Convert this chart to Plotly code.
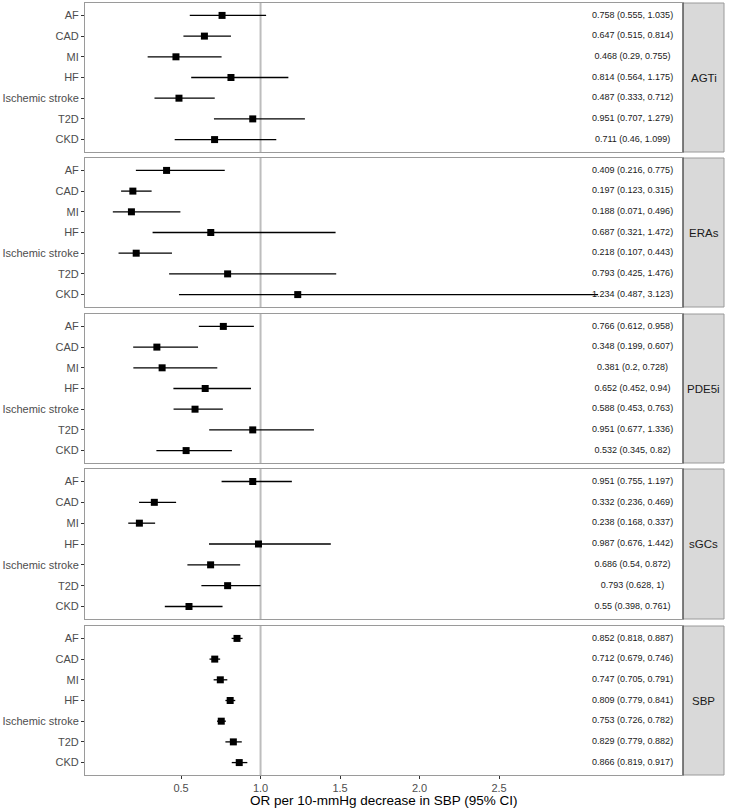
import plotly.graph_objects as go

# ---------------- data ----------------
outcomes = ["AF", "CAD", "MI", "HF", "Ischemic stroke", "T2D", "CKD"]
panels = ["AGTi", "ERAs", "PDE5i", "sGCs", "SBP"]

agti_or = [0.758, 0.647, 0.468, 0.814, 0.487, 0.951, 0.711]
agti_lo = [0.555, 0.515, 0.29, 0.564, 0.333, 0.707, 0.46]
agti_hi = [1.035, 0.814, 0.755, 1.175, 0.712, 1.279, 1.099]

eras_or = [0.409, 0.197, 0.188, 0.687, 0.218, 0.793, 1.234]
eras_lo = [0.216, 0.123, 0.071, 0.321, 0.107, 0.425, 0.487]
eras_hi = [0.775, 0.315, 0.496, 1.472, 0.443, 1.476, 3.123]

pde5i_or = [0.766, 0.348, 0.381, 0.652, 0.588, 0.951, 0.532]
pde5i_lo = [0.612, 0.199, 0.2, 0.452, 0.453, 0.677, 0.345]
pde5i_hi = [0.958, 0.607, 0.728, 0.94, 0.763, 1.336, 0.82]

sgcs_or = [0.951, 0.332, 0.238, 0.987, 0.686, 0.793, 0.55]
sgcs_lo = [0.755, 0.236, 0.168, 0.676, 0.54, 0.628, 0.398]
sgcs_hi = [1.197, 0.469, 0.337, 1.442, 0.872, 1, 0.761]

sbp_or = [0.852, 0.712, 0.747, 0.809, 0.753, 0.829, 0.866]
sbp_lo = [0.818, 0.679, 0.705, 0.779, 0.726, 0.779, 0.819]
sbp_hi = [0.887, 0.746, 0.791, 0.841, 0.782, 0.882, 0.917]

x_tickvals = [0.5, 1.0, 1.5, 2.0, 2.5]
x_ticktext = ["0.5", "1.0", "1.5", "2.0", "2.5"]

series = [
    (agti_or, agti_lo, agti_hi),
    (eras_or, eras_lo, eras_hi),
    (pde5i_or, pde5i_lo, pde5i_hi),
    (sgcs_or, sgcs_lo, sgcs_hi),
    (sbp_or, sbp_lo, sbp_hi),
]

# ---------------- layout constants ----------------
W, H = 731, 810
ML, MR, MT, MB = 85, 48, 3, 35
PLOT_W = W - ML - MR
PLOT_H = H - MT - MB
STRIP_W = 41
TEXT_X = 3.34
X_RANGE = [-0.104, 3.657]
panel_tops = [3, 158, 314, 469, 626]
panel_bots = [152, 307, 463, 619, 775]

FONT = "Liberation Sans"
BORDER = "#9a9a9a"
DARK = "#333333"


def py(px):
    return (H - MB - px) / PLOT_H


fig = go.Figure()
layout = dict(
    width=W, height=H,
    margin=dict(l=ML, r=MR, t=MT, b=MB),
    paper_bgcolor="white", plot_bgcolor="white",
    showlegend=False,
    font=dict(family=FONT, size=11, color="#4d4d4d"),
)
shapes = []
annotations = []

for i, (name, (orv, lo, hi)) in enumerate(zip(panels, series)):
    k = i + 1
    xa = "x" if k == 1 else f"x{k}"
    ya = "y" if k == 1 else f"y{k}"
    labels = [f"{o:g} ({a:g}, {b:g})" for o, a, b in zip(orv, lo, hi)]

    fig.add_trace(go.Scatter(
        x=orv, y=outcomes, mode="markers",
        marker=dict(symbol="square", size=7, color="black"),
        error_x=dict(type="data", symmetric=False,
                     array=[b - o for o, b in zip(orv, hi)],
                     arrayminus=[o - a for o, a in zip(orv, lo)],
                     thickness=1.3, width=0, color="black"),
        xaxis=xa, yaxis=ya, hoverinfo="skip",
    ))
    fig.add_trace(go.Scatter(
        x=[TEXT_X] * len(labels), y=outcomes, mode="text", text=labels,
        textposition="middle center",
        textfont=dict(family=FONT, size=9, color="#1a1a1a"),
        xaxis=xa, yaxis=ya, hoverinfo="skip",
    ))

    bottom = (k == len(panels))
    xkey = "xaxis" if k == 1 else f"xaxis{k}"
    ykey = "yaxis" if k == 1 else f"yaxis{k}"
    layout[xkey] = dict(
        domain=[0, 1], anchor=ya, range=X_RANGE,
        showgrid=False, zeroline=False,
        showline=True, mirror=True, linecolor=BORDER, linewidth=1,
        tickvals=x_tickvals, ticktext=x_ticktext,
        ticks="outside" if bottom else "", ticklen=3, tickcolor=DARK,
        showticklabels=bottom,
        tickfont=dict(family=FONT, size=11, color="#4d4d4d"),
    )
    if k > 1:
        layout[xkey]["matches"] = "x"
    layout[ykey] = dict(
        domain=[py(panel_bots[i]), py(panel_tops[i])], anchor=xa,
        type="category", categoryarray=outcomes, range=[6.6, -0.6],
        showgrid=False, zeroline=False,
        showline=True, mirror=True, linecolor=BORDER, linewidth=1,
        ticks="outside", ticklen=3, tickcolor=DARK,
        tickfont=dict(family=FONT, size=11, color="#4d4d4d"),
    )

    # reference line at OR = 1
    shapes.append(dict(type="line", xref=xa, yref=f"{ya} domain",
                       x0=1, x1=1, y0=0, y1=1, layer="below",
                       line=dict(color="#bdbdbd", width=2)))
    # strip
    shapes.append(dict(type="rect", xref="paper", yref=f"{ya} domain",
                       x0=1, x1=1 + STRIP_W / PLOT_W, y0=0, y1=1,
                       fillcolor="#d9d9d9", line=dict(color=BORDER, width=1),
                       layer="above"))
    shapes.append(dict(type="line", xref="paper", yref=f"{ya} domain",
                       x0=1, x1=1, y0=0, y1=1,
                       line=dict(color=DARK, width=1), layer="above"))
    annotations.append(dict(text=name, xref="paper", yref=f"{ya} domain",
                            x=1 + STRIP_W / PLOT_W / 2, y=0.5,
                            xanchor="center", yanchor="middle", showarrow=False,
                            font=dict(family=FONT, size=11.5, color="#1a1a1a")))

annotations.append(dict(text="OR per 10-mmHg decrease in SBP (95% CI)",
                        xref="paper", yref="paper", x=0.5, y=py(801),
                        xanchor="center", yanchor="middle", showarrow=False,
                        font=dict(family=FONT, size=13.5, color="black")))

layout["shapes"] = shapes
layout["annotations"] = annotations
fig.update_layout(**layout)
fig.write_html("out.html",
               config={"displayModeBar": False, "staticPlot": True},
               post_script="document.body.style.margin='0';document.body.style.overflow='hidden';")
